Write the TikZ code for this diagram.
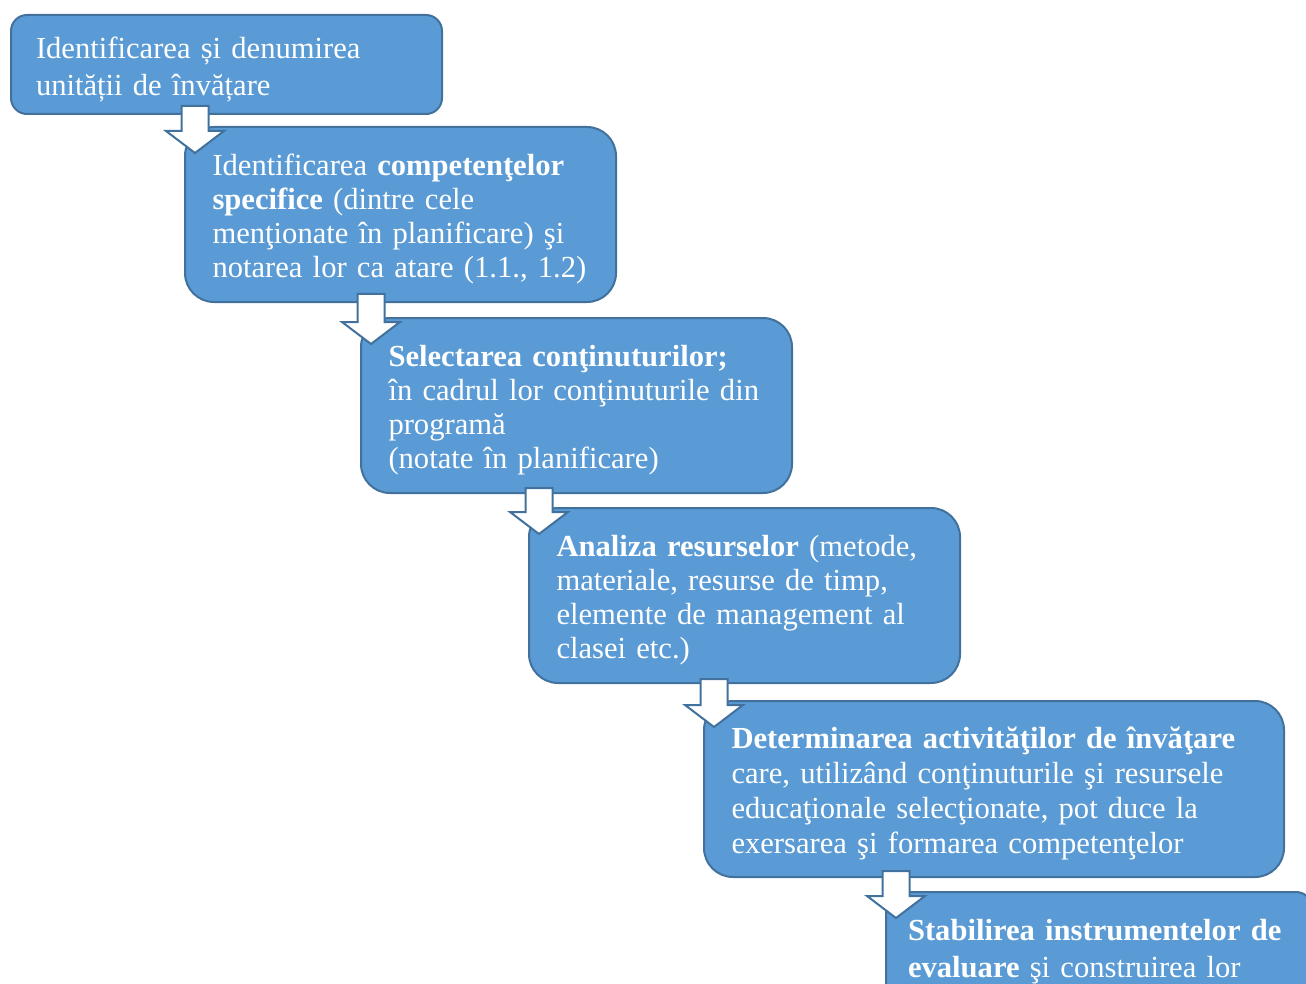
\documentclass[tikz,border=0pt]{standalone}
\usepackage{fontspec}
\setmainfont{Liberation Serif}
\usepackage{tikz}
\usetikzlibrary{calc}

\definecolor{StepFill}{HTML}{5B9BD5}
\definecolor{StepLine}{HTML}{41719C}

\begin{document}
\begin{tikzpicture}[x=0.5pt,y=-0.5pt]
\tikzstyle{stepbox}=[draw=StepLine, fill=StepFill, line width=1pt, text=white, anchor=north west, align=left, inner xsep=13.75pt, inner ysep=0pt, rounded corners=14.5pt, text width=188pt, minimum height=87.5pt, font=\fontsize{15.3}{17}\selectfont, execute at begin node={\rule{0pt}{15.5pt}}]
\tikzstyle{flowarrow}=[draw=StepLine, fill=white, line width=1pt]

\useasboundingbox (0,0) rectangle (1306,984);
\clip (0,0) rectangle (1306,984);

\coordinate (StepOne) at (10,14);
\coordinate (StepTwo) at (184,126);
\coordinate (StepThree) at (360,317);
\coordinate (StepFour) at (528,507);
\coordinate (StepFive) at (703,700);
\coordinate (StepSix) at (885,891);

\node[stepbox, inner xsep=12.5pt, text width=190.5pt, rounded corners=8pt, minimum height=49.5pt, font=\fontsize{15.3}{18.5}\selectfont] (UnitName) at (StepOne) {Identificarea și denumirea\\unității de învățare};
\node[stepbox] (Competences) at (StepTwo) {Identificarea \textbf{competenţelor}\\\textbf{specifice} (dintre cele\\menţionate în planificare) şi\\notarea lor ca atare (1.1., 1.2)};
\node[stepbox] (Contents) at (StepThree) {\textbf{Selectarea conţinuturilor;}\\în cadrul lor conţinuturile din\\programă\\(notate în planificare)};
\node[stepbox] (Resources) at (StepFour) {\textbf{Analiza resurselor} (metode,\\materiale, resurse de timp,\\elemente de management al\\clasei etc.)};
\node[stepbox, text width=262.5pt, minimum height=88pt, font=\fontsize{15.3}{17.5}\selectfont] (Activities) at (StepFive) {\textbf{Determinarea activităţilor de învăţare}\\care, utilizând conţinuturile şi resursele\\educaţionale selecţionate, pot duce la\\exersarea şi formarea competenţelor};
\node[stepbox, inner xsep=11pt, text width=191pt, rounded corners=8pt, minimum height=55pt, font=\fontsize{15.3}{18.5}\selectfont] (Assessment) at (StepSix) {\textbf{Stabilirea instrumentelor de}\\\textbf{evaluare} şi construirea lor};

\draw[flowarrow] ($(Competences.north west |- UnitName.south)+(-2.5,-9)$) -- ($(Competences.north west)+(-2.5,5)$) -- ++(-15.5,0) -- ++(29,22) -- ++(29,-22) -- ++(-15.5,0) -- ($(Competences.north west |- UnitName.south)+(24.5,-9)$) -- cycle;
\draw[flowarrow] ($(Contents.north west |- Competences.south)+(-2.5,-9)$) -- ($(Contents.north west)+(-2.5,5)$) -- ++(-15.5,0) -- ++(29,22) -- ++(29,-22) -- ++(-15.5,0) -- ($(Contents.north west |- Competences.south)+(24.5,-9)$) -- cycle;
\draw[flowarrow] ($(Resources.north west |- Contents.south)+(-2.5,-6)$) -- ($(Resources.north west)+(-2.5,5)$) -- ++(-15.5,0) -- ++(29,22) -- ++(29,-22) -- ++(-15.5,0) -- ($(Resources.north west |- Contents.south)+(24.5,-6)$) -- cycle;
\draw[flowarrow] ($(Activities.north west |- Resources.south)+(-2.5,-5)$) -- ($(Activities.north west)+(-2.5,5)$) -- ++(-15.5,0) -- ++(29,22) -- ++(29,-22) -- ++(-15.5,0) -- ($(Activities.north west |- Resources.south)+(24.5,-5)$) -- cycle;
\draw[flowarrow] ($(Assessment.north west |- Activities.south)+(-2.5,-7)$) -- ($(Assessment.north west)+(-2.5,5)$) -- ++(-15.5,0) -- ++(29,22) -- ++(29,-22) -- ++(-15.5,0) -- ($(Assessment.north west |- Activities.south)+(24.5,-7)$) -- cycle;
\end{tikzpicture}
\end{document}
